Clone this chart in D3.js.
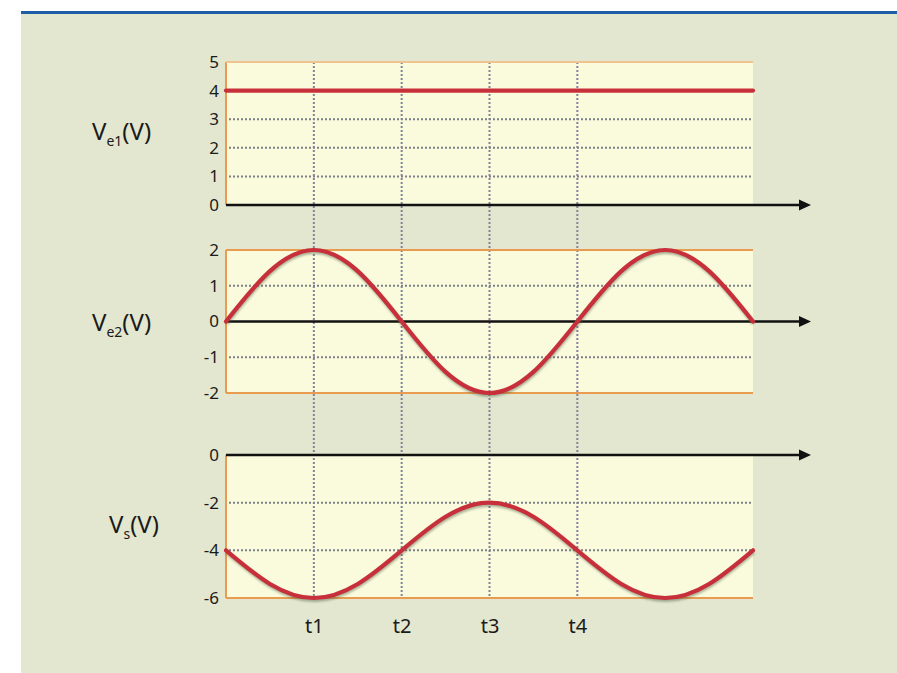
<!DOCTYPE html>
<html>
<head>
<meta charset="utf-8">
<script src="https://cdn.jsdelivr.net/npm/d3@7"></script>
<style>
  html, body { margin: 0; padding: 0; background: #ffffff; }
  svg { display: block; }
  text { font-family: "Noto Sans", "Open Sans", sans-serif; fill: #1a1a1a; }
</style>
</head>
<body>
<svg id="chart" width="897" height="673"></svg>
<script>
// ---------- data ----------
const timeSamples = [0, 0.5, 1, 1.5, 2, 2.5, 3, 3.5, 4, 4.5, 5, 5.5, 6];
const ve1Values = [4, 4, 4, 4, 4, 4, 4, 4, 4, 4, 4, 4, 4];
const ve2Values = [0, 1.41, 2, 1.41, 0, -1.41, -2, -1.41, 0, 1.41, 2, 1.41, 0];
const vsValues = [-4, -5.41, -6, -5.41, -4, -2.59, -2, -2.59, -4, -5.41, -6, -5.41, -4];
const timeMarkers = [1, 2, 3, 4];
const timeLabels = ["t1", "t2", "t3", "t4"];
const ve1Ticks = [0, 1, 2, 3, 4, 5];
const ve2Ticks = [-2, -1, 0, 1, 2];
const vsTicks = [-6, -4, -2, 0];
const ve1Grid = [1, 2, 3];
const ve2Grid = [-1, 1];
const vsGrid = [-4, -2];
const panelLabels = [
  { main: "V", sub: "e1", rest: "(V)" },
  { main: "V", sub: "e2", rest: "(V)" },
  { main: "V", sub: "s", rest: "(V)" }
];

// ---------- layout ----------
const svg = d3.select("#chart");
const W = 897, H = 673;
const colors = {
  bg: "#e3e7cf", panel: "#fafadc", orange: "#e99c4f", orangeLight: "#efc48f",
  red: "#c7303a", grid: "#7e8088", axis: "#111111", blue: "#1e5ea6"
};

svg.append("rect").attr("x", 21).attr("y", 13).attr("width", W - 21).attr("height", H - 13).attr("fill", colors.bg);
svg.append("rect").attr("x", 21).attr("y", 11).attr("width", W - 21).attr("height", 3).attr("fill", colors.blue);

const defs = svg.append("defs");
defs.append("filter").attr("id", "shadow").attr("x", "-5%").attr("y", "-20%").attr("width", "110%").attr("height", "140%")
  .append("feGaussianBlur").attr("stdDeviation", 1.2);
defs.append("marker").attr("id", "arrow").attr("viewBox", "0 0 12 12").attr("refX", 1).attr("refY", 6)
  .attr("markerWidth", 12).attr("markerHeight", 12).attr("markerUnits", "userSpaceOnUse").attr("orient", "auto")
  .append("path").attr("d", "M0,0.5 L12,6 L0,11.5 Z").attr("fill", colors.axis);

const x = d3.scaleLinear().domain([0, 6]).range([226, 753]);
const arrowEnd = 800;

const panels = [
  { y: d3.scaleLinear().domain([0, 5]).range([205, 62]), ticks: ve1Ticks, grid: ve1Grid, values: ve1Values,
    axisAt: 0, topColor: colors.orangeLight, bottomOrange: false, label: panelLabels[0], labelX: 92, labelY: 140 },
  { y: d3.scaleLinear().domain([-2, 2]).range([393, 250]), ticks: ve2Ticks, grid: ve2Grid, values: ve2Values,
    axisAt: 0, topColor: colors.orange, bottomOrange: true, label: panelLabels[1], labelX: 92, labelY: 331 },
  { y: d3.scaleLinear().domain([-6, 0]).range([598, 455]), ticks: vsTicks, grid: vsGrid, values: vsValues,
    axisAt: 0, topColor: null, bottomOrange: true, label: panelLabels[2], labelX: 109, labelY: 533 }
];

// panel backgrounds
panels.forEach(p => {
  const [d0, d1] = p.y.domain();
  svg.append("rect")
    .attr("x", x(0)).attr("y", p.y(d1)).attr("width", x(6) - x(0)).attr("height", p.y(d0) - p.y(d1))
    .attr("fill", colors.panel);
});

// horizontal dotted grid
panels.forEach(p => {
  svg.append("g").selectAll("line").data(p.grid).join("line")
    .attr("x1", x(0) + 3).attr("x2", x(6)).attr("y1", d => p.y(d)).attr("y2", d => p.y(d))
    .attr("stroke", colors.grid).attr("stroke-width", 2).attr("stroke-dasharray", "2,2");
});

// vertical dotted lines at t markers
const topY = panels[0].y(5), botY = panels[2].y(-6);
svg.append("g").selectAll("line").data(timeMarkers).join("line")
  .attr("x1", d => x(d)).attr("x2", d => x(d)).attr("y1", topY).attr("y2", botY)
  .attr("stroke", "#80849a").attr("stroke-width", 2).attr("stroke-dasharray", "2,2");

// orange borders
panels.forEach(p => {
  const [d0, d1] = p.y.domain();
  svg.append("line").attr("x1", x(0)).attr("x2", x(0)).attr("y1", p.y(d1)).attr("y2", p.y(d0))
    .attr("stroke", colors.orange).attr("stroke-width", 2);
  if (p.topColor) {
    svg.append("line").attr("x1", x(0)).attr("x2", x(6)).attr("y1", p.y(d1)).attr("y2", p.y(d1))
      .attr("stroke", p.topColor).attr("stroke-width", 2);
  }
  if (p.bottomOrange) {
    svg.append("line").attr("x1", x(0)).attr("x2", x(6)).attr("y1", p.y(d0)).attr("y2", p.y(d0))
      .attr("stroke", colors.orange).attr("stroke-width", 2);
  }
});

// axes (time axis at 0 with arrow)
panels.forEach(p => {
  svg.append("line").attr("x1", x(0)).attr("x2", arrowEnd).attr("y1", p.y(p.axisAt)).attr("y2", p.y(p.axisAt))
    .attr("stroke", colors.axis).attr("stroke-width", 2.6).attr("marker-end", "url(#arrow)");
});

// curves
const line = p => d3.line().x((d, i) => x(timeSamples[i])).y(d => p.y(d)).curve(d3.curveNatural);
panels.forEach(p => {
  svg.append("path").datum(p.values).attr("d", line(p)).attr("fill", "none")
    .attr("stroke", "#4a5a40").attr("stroke-opacity", 0.45).attr("stroke-width", 4)
    .attr("transform", "translate(0.5,2)").attr("filter", "url(#shadow)");
  svg.append("path").datum(p.values).attr("d", line(p)).attr("fill", "none")
    .attr("stroke", colors.red).attr("stroke-width", 4.2).attr("stroke-linecap", "round");
});

// y tick labels via d3 axis (labels only)
panels.forEach(p => {
  const g = svg.append("g").attr("transform", `translate(${x(0)},0)`)
    .call(d3.axisLeft(p.y).tickValues(p.ticks).tickSize(0).tickPadding(7).tickFormat(d => String(d)));
  g.select(".domain").remove();
  g.attr("font-size", null).attr("font-family", null);
  g.selectAll("text").style("font-size", "17px").attr("fill", "#1a1a1a");
});

// time labels
const tAxis = svg.append("g").attr("transform", `translate(0,${botY})`)
  .call(d3.axisBottom(x).tickValues(timeMarkers).tickSize(0).tickPadding(18)
    .tickFormat((d, i) => timeLabels[i]));
tAxis.select(".domain").remove();
tAxis.attr("font-size", null).attr("font-family", null);
tAxis.selectAll("text").style("font-size", "20px").attr("fill", "#1a1a1a").attr("dy", "0.85em");

// panel labels
panels.forEach(p => {
  const t = svg.append("text").attr("x", p.labelX).attr("y", p.labelY).style("font-size", "24px");
  t.append("tspan").text(p.label.main);
  t.append("tspan").style("font-size", "14px").attr("dy", 6).text(p.label.sub);
  t.append("tspan").attr("dy", -6).text(p.label.rest);
});
</script>
</body>
</html>
